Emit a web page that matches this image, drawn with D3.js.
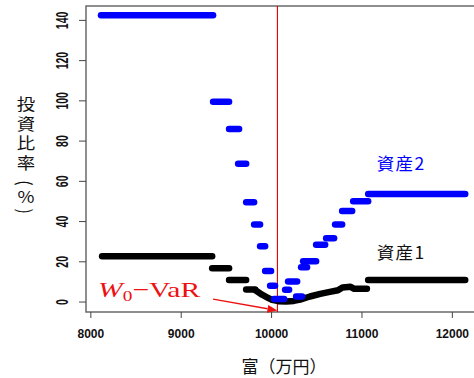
<!DOCTYPE html>
<html><head><meta charset="utf-8">
<script src="https://cdn.jsdelivr.net/npm/d3@7"></script>
<style>body{margin:0;background:#fff} svg{display:block}</style>
</head><body>
<svg id="c" width="474" height="378"></svg>
<script>
// ---- data ----
const xTicks = [8000, 9000, 10000, 11000, 12000];
const yTicks = [0, 20, 40, 60, 80, 100, 120, 140];
const seriesNames = ["資産1", "資産2"];
const xTitle = "富（万円）";
const yTitle = "投資比率\u2006(％)";
// step segments: [wealth start, wealth end, ratio %]
const asset1Steps = [
  [8130, 9348, 22.5], [9348, 9535, 16.6], [9535, 9724, 10.7], [9724, 9823, 6.0],
  [11074, 12148, 10.7]
];
// continuous part of asset 1
const asset1CurveWealth = [9823, 9900, 9960, 10011, 10080, 10166, 10250, 10321, 10430, 10543, 10650, 10740, 10790, 10880, 10920, 11060];
const asset1CurveRatio  = [5.7, 3.4, 2.0, 0.8, 0.2, 0.0, 0.3, 1.0, 2.5, 3.8, 4.8, 5.6, 7.0, 7.3, 6.3, 6.3];
const asset2Steps = [
  [8118, 9358, 142.3], [9358, 9535, 99.3], [9535, 9646, 85.8], [9635, 9724, 68.5],
  [9724, 9812, 49.3], [9812, 9878, 38.3], [9878, 9934, 27.5], [9934, 10000, 15.2],
  [9989, 10044, 7.8], [10033, 10144, 1.2], [10155, 10199, 5.8], [10188, 10288, 10.0],
  [10277, 10343, 2.5], [10332, 10398, 17.0], [10354, 10498, 20.0], [10498, 10598, 28.2],
  [10609, 10697, 31.5], [10708, 10786, 38.3], [10786, 10897, 45.0], [10908, 11074, 49.8],
  [11074, 12148, 53.5]
];
const w0VaR = 10070;
const annotation = {label: "W", sub: "0", rest: "−VaR", wealth: 8085, ratio: 2.1,
  arrowFrom: [9358, 1.2], arrowTo: [w0VaR, -4.5]};

// ---- layout ----
const svg = d3.select("#c");
const padL = 86, padT = 6, padB = 312;
const x = d3.scaleLinear().domain([7952, 12400]).range([86, 488]);
const y = d3.scaleLinear().domain([-5.2, 146.9]).range([padB, padT]);
const colors = ["#000000", "#0000ff"];
const SW = 6.5;

// box
svg.append("path")
  .attr("d", `M474,${padT}H${padL}V${padB}H474`)
  .attr("fill", "none").attr("stroke", "#6a6a6a").attr("stroke-width", 1.5);

// x axis
const gx = svg.append("g").attr("transform", `translate(0,${padB})`)
  .call(d3.axisBottom(x).tickValues(xTicks).tickSize(6).tickFormat(d3.format("d")));
gx.select(".domain").remove();
gx.selectAll("line").attr("stroke", "#444");
gx.selectAll("text").attr("y", 22).attr("dy", null).attr("dominant-baseline", "central")
  .attr("font-family", "'Liberation Sans', Arial, sans-serif").attr("font-size", 12)
  .attr("font-weight", "bold").attr("fill", "#111");

// y axis
const gy = svg.append("g").attr("transform", `translate(${padL},0)`)
  .call(d3.axisLeft(y).tickValues(yTicks).tickSize(7));
gy.select(".domain").remove();
gy.selectAll("line").attr("stroke", "#444");
gy.selectAll("text").attr("x", null).attr("dy", null)
  .attr("transform", "translate(-23.5,0) scale(1.5,1) rotate(-90)")
  .attr("text-anchor", "middle").attr("dominant-baseline", "central")
  .attr("font-family", "'Liberation Sans', Arial, sans-serif").attr("font-size", 10.5)
  .attr("font-weight", "bold").attr("fill", "#111");

// W0-VaR vertical line
svg.append("line")
  .attr("x1", x(w0VaR)).attr("x2", x(w0VaR)).attr("y1", padT).attr("y2", padB)
  .attr("stroke", "#e00000").attr("stroke-width", 1.1);

// series
function drawSteps(steps, color) {
  svg.append("g").selectAll("line").data(steps).join("line")
    .attr("x1", d => x(d[0])).attr("x2", d => x(d[1]))
    .attr("y1", d => y(d[2])).attr("y2", d => y(d[2]))
    .attr("stroke", color).attr("stroke-width", SW).attr("stroke-linecap", "round");
}
drawSteps(asset1Steps, colors[0]);
const curve = asset1CurveWealth.map((w, i) => [w, asset1CurveRatio[i]]);
svg.append("path").datum(curve)
  .attr("d", d3.line().x(d => x(d[0])).y(d => y(d[1])))
  .attr("fill", "none").attr("stroke", colors[0]).attr("stroke-width", SW)
  .attr("stroke-linecap", "round").attr("stroke-linejoin", "round");
drawSteps(asset2Steps, colors[1]);

// series labels
const cjk = "'Noto Sans CJK JP', 'Noto Sans CJK SC', sans-serif";
[[seriesNames[1], 53.5 + 15.5, colors[1]], [seriesNames[0], 10.7 + 14, "#111"]].forEach(([t, v, c]) => {
  svg.append("text").attr("x", x(11440)).attr("y", y(v))
    .attr("text-anchor", "middle").attr("dominant-baseline", "central")
    .attr("font-family", cjk).attr("font-size", 17.5).attr("letter-spacing", 1.5)
    .attr("fill", c).text(t);
});

// annotation
const ann = svg.append("text")
  .attr("transform", `translate(${x(annotation.wealth)},${y(annotation.ratio)}) scale(1.38,1)`)
  .attr("font-family", "'Liberation Serif', 'Times New Roman', serif").attr("font-size", 21.5)
  .attr("fill", "#ee1111");
ann.append("tspan").attr("font-style", "italic").text(annotation.label);
ann.append("tspan").attr("font-size", 14).attr("dy", 4).text(annotation.sub);
ann.append("tspan").attr("dy", -4).text(annotation.rest);

// arrow
const ax1 = x(annotation.arrowFrom[0]), ay1 = y(annotation.arrowFrom[1]);
const ax2 = x(annotation.arrowTo[0]), ay2 = y(annotation.arrowTo[1]);
const ang = Math.atan2(ay2 - ay1, ax2 - ax1);
const hl = 10, hw = 4;
const bx = ax2 - hl * Math.cos(ang), by = ay2 - hl * Math.sin(ang);
svg.append("line").attr("x1", ax1).attr("y1", ay1).attr("x2", bx).attr("y2", by)
  .attr("stroke", "#ee1111").attr("stroke-width", 1.5);
svg.append("path")
  .attr("d", `M${ax2},${ay2}L${bx - hw * Math.sin(ang)},${by + hw * Math.cos(ang)}L${bx + hw * Math.sin(ang)},${by - hw * Math.cos(ang)}Z`)
  .attr("fill", "#ee1111");

// axis titles
svg.append("text").attr("x", 284).attr("y", 365)
  .attr("text-anchor", "middle").attr("dominant-baseline", "central")
  .attr("font-family", cjk).attr("font-size", 17).attr("fill", "#111").text(xTitle);

// vertical y title (single text, vertical writing mode)
svg.append("text")
  .attr("transform", "translate(26,96) scale(1.15,1)")
  .attr("x", 0).attr("y", 0)
  .attr("style", "writing-mode: vertical-rl; letter-spacing: 3.5px")
  .attr("font-family", cjk).attr("font-size", 16).attr("fill", "#111")
  .text(yTitle);
</script>
</body></html>
